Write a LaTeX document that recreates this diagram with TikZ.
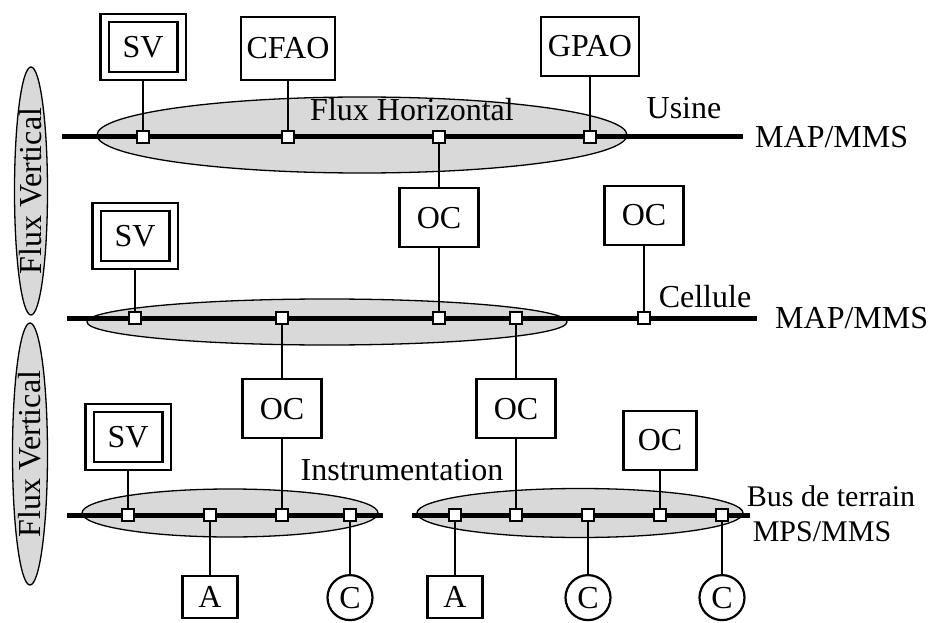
\documentclass[tikz,border=0pt]{standalone}
\usepackage{fontspec}
\setmainfont{Liberation Serif}
\usetikzlibrary{shapes,positioning}

\begin{document}
\begin{tikzpicture}[
    x=1pt, y=-1pt,
    font=\fontsize{32}{36}\selectfont,
    box/.style={rectangle, draw, line width=2.2pt, minimum width=79pt, minimum height=59pt, inner sep=0pt},
    screen/.style={rectangle, draw, line width=2.2pt, double, double distance=6pt, outer sep=5pt, minimum width=77pt, minimum height=58pt, inner sep=0pt},
    term/.style={rectangle, draw, line width=2.2pt, minimum width=55pt, minimum height=42pt, inner sep=0pt},
    sensor/.style={circle, draw, line width=2.2pt, minimum size=45pt, inner sep=0pt},
    tap/.style={rectangle, draw, line width=2pt, fill=white, minimum size=12pt, inner sep=0pt},
    zone/.style={ellipse, draw, line width=1.3pt, fill=gray!30, inner sep=0pt},
    lbl/.style={inner sep=0pt},
    bus/.style={line width=5pt},
    stem/.style={line width=2.4pt}
]
    \useasboundingbox (0,0) rectangle (932,623);

    % Flux Vertical
    \node[zone, rotate=90, minimum width=248pt, minimum height=33pt] (fv1) at (31,191) {Flux Vertical};
    \node[zone, rotate=90, minimum width=262pt, minimum height=35pt] (fv2) at (30,454) {Flux Vertical};

    % Zones
    \node[zone, minimum width=530pt, minimum height=76pt] (zu) at (362,135) {};
    \node[zone, minimum width=480pt, minimum height=46pt] (zc) at (327,322) {};
    \node[zone, minimum width=296pt, minimum height=48pt] (zi) at (230,513) {};
    \node[zone, minimum width=326pt, minimum height=49pt] (zb) at (580,513) {};

    % Buses
    \coordinate (u0) at (62,137);  \coordinate (u9) at (743,137);
    \coordinate (c0) at (67,318);  \coordinate (c9) at (757,318);
    \coordinate (i0) at (67,515);  \coordinate (i9) at (383,515);
    \coordinate (b0) at (412,515); \coordinate (b9) at (750,515);
    \draw[bus] (u0) -- (u9);
    \draw[bus] (c0) -- (c9);
    \draw[bus] (i0) -- (i9);
    \draw[bus] (b0) -- (b9);

    % Taps
    \foreach \n/\x in {u1/143, u2/288, u3/439, u4/590}
        \node[tap] (\n) at (\x,137) {};
    \foreach \n/\x in {c1/135, c2/282, c3/439, c4/516, c5/644}
        \node[tap] (\n) at (\x,318) {};
    \foreach \n/\x in {i1/128, i2/210, i3/282, i4/350}
        \node[tap] (\n) at (\x,515) {};
    \foreach \n/\x in {b1/455, b2/516, b3/588, b4/660, b5/722}
        \node[tap] (\n) at (\x,515) {};

    % Usine
    \node[screen, above=49pt of u1] (sv1) {SV};
    \node[box, above=49pt of u2, minimum width=94pt, minimum height=63pt] (cfao) {CFAO};
    \node[box, above=53pt of u4, minimum width=98pt] (gpao) {GPAO};
    \node[box, below=43pt of u3] (oc1) {OC};

    % Cellule
    \node[screen, above=41pt of c1] (sv2) {SV};
    \node[box, above=65pt of c5] (oc2) {OC};
    \node[box, below=53pt of c2] (oc3) {OC};
    \node[box, below=53pt of c4] (oc4) {OC};

    % Instrumentation
    \node[screen, above=37pt of i1] (sv3) {SV};
    \node[term, below=53pt of i2] (a1) {A};
    \node[sensor, below=52pt of i4] (s1) {C};

    % Bus de terrain
    \node[term, below=53pt of b1] (a2) {A};
    \node[sensor, below=52pt of b3] (s2) {C};
    \node[box, above=37pt of b4, minimum width=73pt] (oc5) {OC};
    \node[sensor, below=52pt of b5] (s3) {C};

    % Links
    \draw[stem] (u1) -- (sv1);
    \draw[stem] (u2) -- (cfao);
    \draw[stem] (u3) -- (oc1);
    \draw[stem] (u4) -- (gpao);
    \draw[stem] (oc1) -- (c3);
    \draw[stem] (c1) -- (sv2);
    \draw[stem] (c5) -- (oc2);
    \draw[stem] (c2) -- (oc3);
    \draw[stem] (c4) -- (oc4);
    \draw[stem] (oc3) -- (i3);
    \draw[stem] (oc4) -- (b2);
    \draw[stem] (i1) -- (sv3);
    \draw[stem] (i2) -- (a1);
    \draw[stem] (i4) -- (s1);
    \draw[stem] (b1) -- (a2);
    \draw[stem] (b3) -- (s2);
    \draw[stem] (b4) -- (oc5);
    \draw[stem] (b5) -- (s3);

    % Labels
    \node[lbl] (fh) at (412,110) {Flux Horizontal};
    \node[lbl] (usine) at (684,108) {Usine};
    \node[lbl, right=12pt of u9] (map1) {MAP/MMS};
    \node[lbl] (cell) at (705,297) {Cellule};
    \node[lbl, right=18pt of c9] (map2) {MAP/MMS};
    \node[lbl] (instr) at (402,470) {Instrumentation};
    \node[lbl, font=\fontsize{30}{34}\selectfont] (bdt) at (831,496) {Bus de terrain};
    \node[lbl, font=\fontsize{30}{34}\selectfont] (mps) at (822,532) {MPS/MMS};
\end{tikzpicture}
\end{document}
